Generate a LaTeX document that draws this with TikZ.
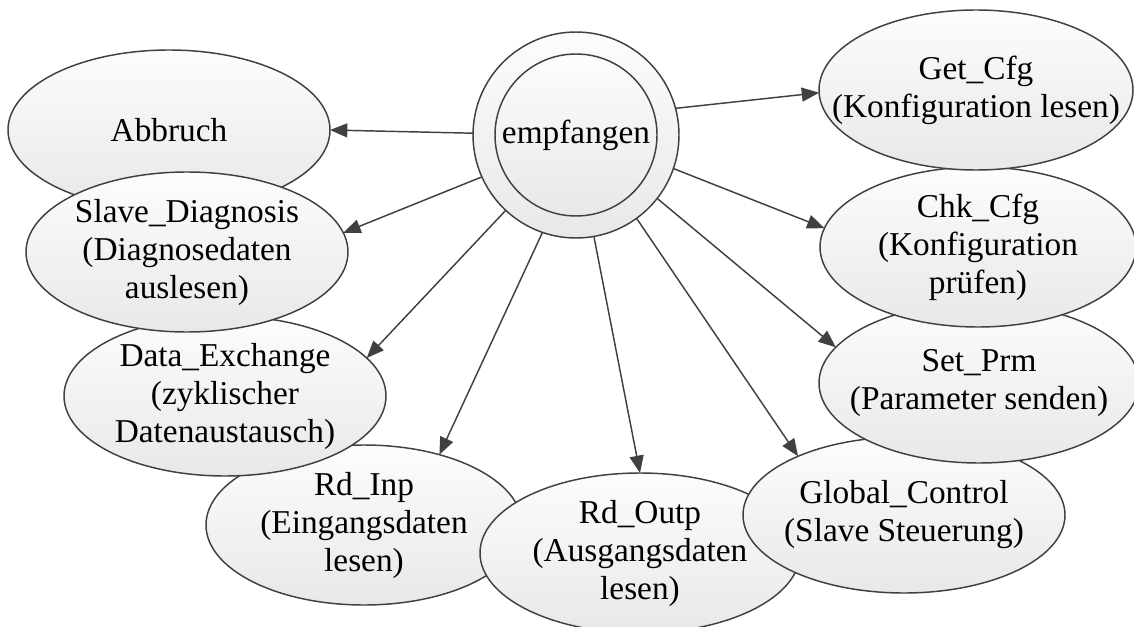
\documentclass[tikz,border=0pt]{standalone}
\usepackage{fontspec}
\setmainfont{Liberation Serif}
\usetikzlibrary{shapes.geometric,arrows.meta}
\begin{document}
\begin{tikzpicture}[x=0.75pt,y=-0.75pt,
    zust/.style={ellipse,draw=black!75,line width=1.1pt,top color=black!1,bottom color=black!9,
        minimum width=241.5pt,minimum height=120pt,inner xsep=-60pt,inner ysep=-40pt,outer sep=0pt,
        align=center,font=\fontsize{25}{28.5}\selectfont},
    pfeil/.style={draw=black!75,line width=1.1pt,-{Triangle[length=13pt,width=10.5pt]}}]
    \useasboundingbox (0,0) rectangle (1134,627);
    \node[zust,minimum width=237pt] (rdinp) at (364,525) {Rd\_Inp\\(Eingangsdaten\\lesen)};
    \node[zust] (datex) at (225,396) {Data\_Exchange\\(zyklischer\\Datenaustausch)};
    \node[zust] (abbr) at (169,130) {Abbruch};
    \node[zust] (sdiag) at (187,252) {Slave\_Diagnosis\\(Diagnosedaten\\auslesen)};
    \node[zust,minimum width=240pt] (rdoutp) at (640,553) {Rd\_Outp\\(Ausgangsdaten\\lesen)};
    \node[zust,minimum height=117pt] (glob) at (904,515) {Global\_Control\\(Slave Steuerung)};
    \node[zust,minimum width=240pt] (setprm) at (979,383) {Set\_Prm\\(Parameter senden)};
    \node[zust,minimum width=237pt] (chkcfg) at (978,247) {Chk\_Cfg\\(Konfiguration\\prüfen)};
    \node[zust,minimum width=235.5pt] (getcfg) at (976,90) {Get\_Cfg\\(Konfiguration lesen)};
    \node[zust,circle,minimum size=154.5pt] (empf) at (576,135) {};
    \node[zust,circle,minimum size=121.5pt,inner sep=0pt] (empfi) at (empf.center) {empfangen};
    \draw[pfeil] (empf.179) -- (abbr.0);
    \draw[pfeil] (empf.204) -- (sdiag.7);
    \draw[pfeil] (empf.227) -- (datex.15);
    \draw[pfeil] (empf.251) -- (rdinp.43);
    \draw[pfeil] (empf.280) -- (rdoutp.90);
    \draw[pfeil] (empf.306) -- (glob.151);
    \draw[pfeil] (empf.322) -- (setprm.166);
    \draw[pfeil] (empf.341) -- (chkcfg.173);
    \draw[pfeil] (empf.15) -- (getcfg.181);
\end{tikzpicture}
\end{document}
